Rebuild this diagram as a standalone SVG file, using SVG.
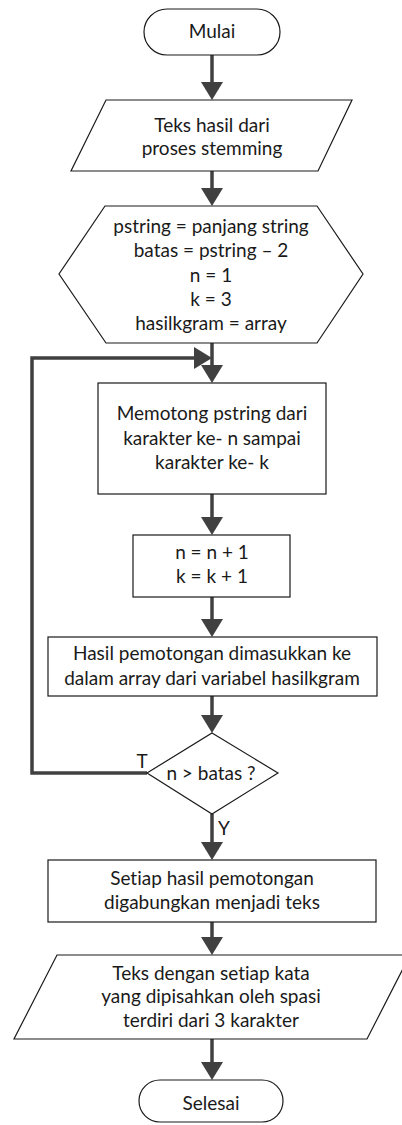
<svg xmlns="http://www.w3.org/2000/svg" width="402" height="1125" viewBox="0 0 402 1125">
  <style>
    .shape { fill: #ffffff; stroke: #1a1a1a; stroke-width: 1.2; }
    .label { font-family: "Lato", "Liberation Sans", sans-serif; font-size: 19px; fill: #1a1a1a; text-anchor: middle; font-variant-ligatures: none; }
    .edge { fill: none; stroke: #404040; stroke-width: 3.5; }
  </style>
  <defs>
    <marker id="arrow" markerUnits="userSpaceOnUse" markerWidth="20" markerHeight="22" viewBox="0 0 18 22" refX="8" refY="11" orient="auto">
      <path d="M0,0 L18,11 L0,22 z" fill="#404040"/>
    </marker>
  </defs>

  <rect width="402" height="1125" fill="#ffffff"/>

  <g id="connectors">
    <path class="edge" d="M212,55 V90" marker-end="url(#arrow)"/>
    <path class="edge" d="M212,171 V196" marker-end="url(#arrow)"/>
    <path class="edge" d="M212,343 V373" marker-end="url(#arrow)"/>
    <path class="edge" d="M147,773 H32 V358 H202" marker-end="url(#arrow)"/>
    <path class="edge" d="M212,494 V525" marker-end="url(#arrow)"/>
    <path class="edge" d="M212,597 V627" marker-end="url(#arrow)"/>
    <path class="edge" d="M212,696 V723" marker-end="url(#arrow)"/>
    <path class="edge" d="M212,814 V850" marker-end="url(#arrow)"/>
    <path class="edge" d="M212,922 V945" marker-end="url(#arrow)"/>
    <path class="edge" d="M212,1039 V1070" marker-end="url(#arrow)"/>
  </g>

  <g id="start">
    <rect class="shape" x="144" y="9" width="136" height="46" rx="23" ry="23"/>
    <text class="label" x="212" y="38">Mulai</text>
  </g>

  <g id="input">
    <polygon class="shape" points="106,100 352,100 318,171 71,171"/>
    <text class="label" x="212" y="132">Teks hasil dari</text>
    <text class="label" x="212" y="155">proses stemming</text>
  </g>

  <g id="init">
    <polygon class="shape" points="105,206 317,206 363,274 317,343 106,343 59,274"/>
    <text class="label" x="211" y="233">pstring = panjang string</text>
    <text class="label" x="211" y="257">batas = pstring – 2</text>
    <text class="label" x="211" y="282">n = 1</text>
    <text class="label" x="211" y="306">k = 3</text>
    <text class="label" x="211" y="330">hasilkgram = array</text>
  </g>

  <g id="cut">
    <rect class="shape" x="98" y="383" width="228" height="111"/>
    <text class="label" x="212" y="420">Memotong pstring dari</text>
    <text class="label" x="212" y="445">karakter ke- n sampai</text>
    <text class="label" x="212" y="469">karakter ke- k</text>
  </g>

  <g id="increment">
    <rect class="shape" x="133" y="535" width="157" height="62"/>
    <text class="label" x="212" y="559">n = n + 1</text>
    <text class="label" x="212" y="583">k = k + 1</text>
  </g>

  <g id="store">
    <rect class="shape" x="48" y="637" width="329" height="59"/>
    <text class="label" x="212" y="660">Hasil pemotongan dimasukkan ke</text>
    <text class="label" x="212" y="685">dalam array dari variabel hasilkgram</text>
  </g>

  <g id="check">
    <polygon class="shape" points="212,733 278,773 212,814 147,773"/>
    <text class="label" x="211" y="780">n &gt; batas ?</text>
    <text class="label" x="142" y="768">T</text>
    <text class="label" x="224" y="835">Y</text>
  </g>

  <g id="join">
    <rect class="shape" x="48" y="860" width="328" height="62"/>
    <text class="label" x="212" y="885">Setiap hasil pemotongan</text>
    <text class="label" x="212" y="909">digabungkan menjadi teks</text>
  </g>

  <g id="output">
    <polygon class="shape" points="57,955 410,955 367,1039 14,1039"/>
    <text class="label" x="211" y="980">Teks dengan setiap kata</text>
    <text class="label" x="211" y="1003">yang dipisahkan oleh spasi</text>
    <text class="label" x="211" y="1027">terdiri dari 3 karakter</text>
  </g>

  <g id="end">
    <rect class="shape" x="139" y="1080" width="144" height="42" rx="21" ry="21"/>
    <text class="label" x="211" y="1110">Selesai</text>
  </g>
</svg>
